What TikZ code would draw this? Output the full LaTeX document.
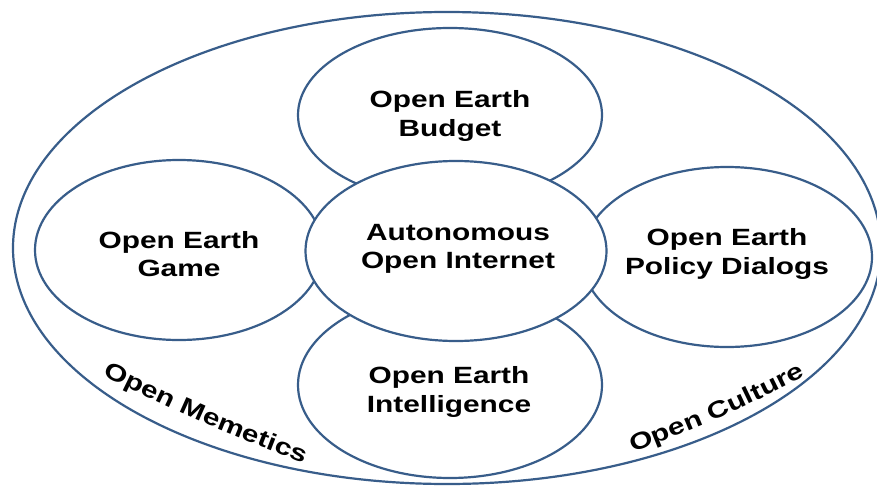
\documentclass[tikz,border=0pt]{standalone}
\usepackage{fontspec}
\setmainfont{Liberation Sans}
\newfontfamily\diagfont[FakeStretch=1.27]{Liberation Sans}
\usetikzlibrary{shapes.geometric,decorations.text}
\definecolor{ol}{RGB}{56,93,138}
\newcommand\labfont{\diagfont\bfseries\fontsize{23.5}{28}\selectfont}
\begin{document}
\begin{tikzpicture}[x=1pt,y=1pt,
  ring/.style={ellipse, draw=ol, line width=2.2pt, inner sep=0pt, fill=white},
  lbl/.style={font=\diagfont\bfseries\fontsize{23.5}{28.5}\selectfont, align=center, text=black, inner sep=0pt},
  arclbl/.style={decorate, decoration={text along path, text align=center, text={#1}}}
]
\useasboundingbox (0,0) rectangle (877,-487);
\clip (0,0) rectangle (877,-487);
\fill[white] (0,0) rectangle (877,-487);
% outer
\node[ring, minimum width=868pt, minimum height=472pt] (outer) at (447,-248) {};
% satellites
\node[ring, minimum width=304pt, minimum height=174pt] (top) at (450,-115) {};
\node[ring, minimum width=304pt, minimum height=186pt] (bot) at (450,-385) {};
\node[ring, minimum width=288pt, minimum height=180pt] (left) at (179,-250) {};
\node[ring, minimum width=290pt, minimum height=180pt] (right) at (727,-257) {};
% centre
\node[ring, minimum width=301pt, minimum height=180pt] (cen) at (456,-251) {};
% texts
\node[lbl] (topT) at (450,-116) {Open Earth\\Budget};
\node[lbl] (botT) at (449,-392) {Open Earth\\Intelligence};
\node[lbl] (leftT) at (179,-254) {Open Earth\\Game};
\node[lbl] (rightT) at (727,-254) {Open Earth\\Policy Dialogs};
\node[lbl] (cenT) at (458,-249) {Autonomous\\Open Internet};
% curved labels
\coordinate (memA) at (89,-368.6);
\coordinate (memC) at (200,-423);
\coordinate (memB) at (318,-468.4);
\coordinate (culA) at (609,-462.5);
\coordinate (culC) at (722,-418);
\coordinate (culB) at (829,-364.5);
\path[arclbl={|\labfont|Open Memetics}] (memA) .. controls (memC) .. (memB);
\path[arclbl={|\labfont|Open Culture}] (culA) .. controls (culC) .. (culB);
\end{tikzpicture}
\end{document}
